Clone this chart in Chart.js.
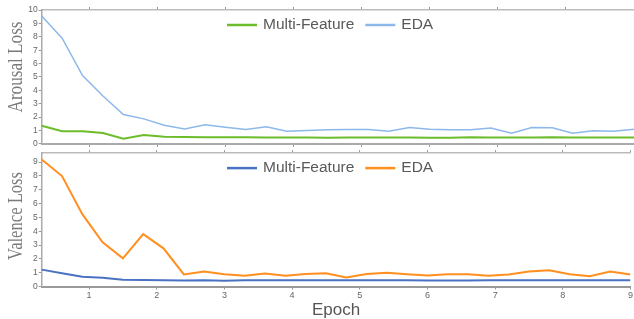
<!DOCTYPE html>
<html>
<head>
<meta charset="utf-8">
<script src="https://cdn.jsdelivr.net/npm/chart.js@4/dist/chart.umd.min.js"></script>
<style>
  html, body { margin: 0; padding: 0; background: #fff; }
  #wrap { position: relative; width: 634px; height: 319px; overflow: hidden; }
  #arousalChart { position: absolute; left: 0; top: 0; }
  #valenceChart { position: absolute; left: 0; top: 147px; }
</style>
</head>
<body>
<div id="wrap">
  <canvas id="arousalChart" width="634" height="150"></canvas>
  <canvas id="valenceChart" width="634" height="174"></canvas>
</div>
<script>
const epochs = [0.3, 0.6, 0.9, 1.2, 1.5, 1.8, 2.1, 2.4, 2.7, 3.0,
                3.3, 3.6, 3.9, 4.2, 4.5, 4.8, 5.1, 5.4, 5.7, 6.0,
                6.3, 6.6, 6.9, 7.2, 7.5, 7.8, 8.1, 8.4, 8.7, 9.0];

const arousalMulti = [1.36, 0.94, 0.95, 0.82, 0.38, 0.67, 0.53, 0.52, 0.49, 0.49,
                      0.50, 0.47, 0.47, 0.48, 0.46, 0.47, 0.47, 0.48, 0.47, 0.46,
                      0.46, 0.50, 0.47, 0.48, 0.47, 0.50, 0.48, 0.47, 0.48, 0.47];
const arousalEda = [9.55, 7.9, 5.1, 3.58, 2.2, 1.87, 1.4, 1.12, 1.43, 1.25,
                    1.07, 1.28, 0.95, 1.0, 1.05, 1.07, 1.07, 0.95, 1.23, 1.1,
                    1.06, 1.06, 1.18, 0.8, 1.23, 1.2, 0.8, 0.98, 0.94, 1.1];

const valenceMulti = [1.22, 0.96, 0.7, 0.63, 0.49, 0.47, 0.46, 0.43, 0.45, 0.42,
                      0.45, 0.45, 0.45, 0.45, 0.45, 0.45, 0.45, 0.45, 0.45, 0.44,
                      0.44, 0.44, 0.45, 0.46, 0.46, 0.46, 0.45, 0.45, 0.46, 0.46];
const valenceEda = [9.19, 7.99, 5.23, 3.2, 2.04, 3.79, 2.76, 0.87, 1.08, 0.88,
                    0.77, 0.94, 0.77, 0.91, 0.96, 0.65, 0.91, 0.99, 0.89, 0.79,
                    0.89, 0.89, 0.77, 0.86, 1.08, 1.18, 0.89, 0.74, 1.08, 0.86];

const xTicks = [1, 2, 3, 4, 5, 6, 7, 8, 9];
const arousalTicks = [0, 1, 2, 3, 4, 5, 6, 7, 8, 9, 10];
const valenceTicks = [0, 1, 2, 3, 4, 5, 6, 7, 8, 9];
const seriesNames = ['Multi-Feature', 'EDA'];

const toPoints = vals => vals.map((v, i) => ({ x: epochs[i], y: v }));

// legend drawn inside the plot, near the top
const innerLegend = {
  id: 'innerLegend',
  afterDraw(chart) {
    const ctx = chart.ctx;
    const area = chart.chartArea;
    ctx.save();
    ctx.font = '15.5px "Liberation Sans", Arial, sans-serif';
    ctx.textBaseline = 'middle';
    const y = area.top + 15;
    let x = 227;
    chart.data.datasets.forEach(ds => {
      ctx.strokeStyle = ds.borderColor;
      ctx.lineWidth = 2.5;
      ctx.beginPath();
      ctx.moveTo(x, y);
      ctx.lineTo(x + 30, y);
      ctx.stroke();
      x += 36;
      ctx.fillStyle = '#595959';
      ctx.fillText(ds.label, x, y);
      x += ctx.measureText(ds.label).width + 11;
    });
    ctx.restore();
  }
};

// serif y-axis title, a bit squeezed along its length like the original
const yTitle = {
  id: 'yTitle',
  afterDraw(chart, args, o) {
    const ctx = chart.ctx;
    ctx.save();
    ctx.font = '21px "Liberation Serif", "Times New Roman", serif';
    ctx.fillStyle = '#7a7a7a';
    ctx.textAlign = 'center';
    ctx.textBaseline = 'middle';
    ctx.translate(o.x, o.y);
    ctx.rotate(-Math.PI / 2);
    const w = ctx.measureText(o.text).width;
    ctx.scale(o.len / w, 1);
    ctx.fillText(o.text, 0, 0);
    ctx.restore();
  }
};

function makeChart(id, opts) {
  const ctx = document.getElementById(id).getContext('2d');
  return new Chart(ctx, {
    type: 'line',
    data: {
      datasets: [
        {
          label: seriesNames[0],
          data: toPoints(opts.multi),
          borderColor: opts.multiColor,
          backgroundColor: opts.multiColor,
          borderWidth: opts.multiWidth,
          pointRadius: 0,
          tension: 0
        },
        {
          label: seriesNames[1],
          data: toPoints(opts.eda),
          borderColor: opts.edaColor,
          backgroundColor: opts.edaColor,
          borderWidth: opts.edaWidth,
          pointRadius: 0,
          tension: 0
        }
      ]
    },
    options: {
      responsive: false,
      animation: false,
      layout: { padding: 0 },
      plugins: {
        legend: { display: false },
        title: { display: false },
        tooltip: { enabled: false },
        yTitle: opts.title
      },
      scales: {
        x: {
          type: 'linear',
          position: 'bottom',
          min: 0.3,
          max: 9,
          afterBuildTicks: s => { s.ticks = xTicks.map(v => ({ value: v })); },
          afterFit: s => { s.height = opts.bottomHeight; },
          ticks: {
            display: opts.showX,
            color: '#666',
            font: { size: 9, family: '"Liberation Sans", Arial, sans-serif' },
            padding: 1,
            maxRotation: 0
          },
          grid: { drawOnChartArea: false, tickLength: 3, color: '#999' },
          border: { color: opts.bottomBorder, width: 2 },
          title: {
            display: opts.showX,
            text: 'Epoch',
            color: '#555',
            font: { size: 17, family: '"Liberation Sans", Arial, sans-serif' },
            padding: { top: 5, bottom: 0 }
          }
        },
        xTop: {
          type: 'linear',
          position: 'top',
          min: 0.3,
          max: 9,
          afterBuildTicks: s => { s.ticks = xTicks.map(v => ({ value: v })); },
          afterFit: s => { s.height = opts.topHeight; },
          ticks: { display: false },
          grid: { drawOnChartArea: false, tickLength: 3, color: '#999' },
          border: { color: '#bbb', width: 1.5 }
        },
        y: {
          min: 0,
          max: opts.yMax,
          afterBuildTicks: s => { s.ticks = opts.yTicks.map(v => ({ value: v })); },
          afterFit: s => { s.width = 41.7; },
          ticks: {
            color: '#666',
            font: { size: 8.5, family: '"Liberation Sans", Arial, sans-serif' },
            padding: 1
          },
          grid: { drawOnChartArea: false, tickLength: 3, color: '#999' },
          border: { color: '#aaa', width: 1.5 }
        }
      }
    },
    plugins: [innerLegend, yTitle]
  });
}

makeChart('arousalChart', {
  multi: arousalMulti, eda: arousalEda,
  multiColor: '#6cbd2b', edaColor: '#8db8ea',
  multiWidth: 2, edaWidth: 1.5,
  yMax: 10, yTicks: arousalTicks,
  title: { text: 'Arousal Loss', x: 16, y: 67, len: 91 },
  showX: false, topHeight: 10, bottomHeight: 5, bottomBorder: '#aaa'
});

makeChart('valenceChart', {
  multi: valenceMulti, eda: valenceEda,
  multiColor: '#4a72c4', edaColor: '#ff8f1f',
  multiWidth: 2, edaWidth: 2,
  yMax: 9.65, yTicks: valenceTicks,
  title: { text: 'Valence Loss', x: 16, y: 69, len: 88 },
  showX: true, topHeight: 4, bottomHeight: 34.5, bottomBorder: '#999'
});
</script>
</body>
</html>
